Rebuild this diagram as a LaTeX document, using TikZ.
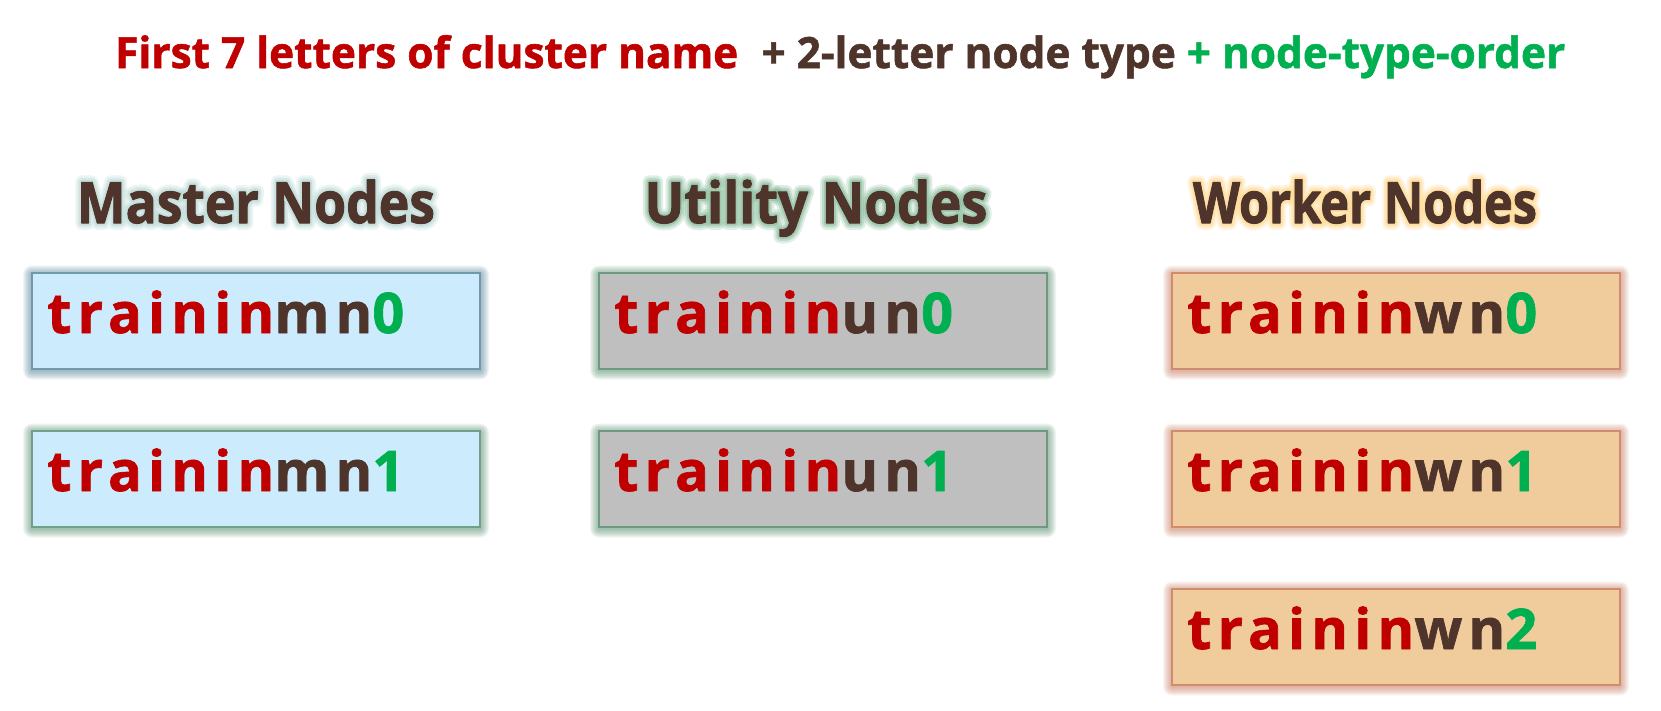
\documentclass[tikz,border=0pt]{standalone}
\usepackage{fontspec}
\usepackage{graphicx}
\usetikzlibrary{calc}
\setmainfont{Open Sans}
\newfontfamily\boxfont[LetterSpace=11,FakeBold=1.2]{Open Sans}
\newfontfamily\hdfont[FakeBold=1.8]{Open Sans}
\newfontfamily\titlefont[FakeBold=1.3]{Open Sans}
\newfontfamily\glowA[FakeBold=24]{Open Sans}
\newfontfamily\glowB[FakeBold=16]{Open Sans}
\newfontfamily\glowC[FakeBold=9]{Open Sans}
\definecolor{cred}{HTML}{C00000}
\definecolor{cbrown}{HTML}{4E342A}
\definecolor{cgreen}{HTML}{00B050}
\definecolor{mfill}{HTML}{CCEBFC}
\definecolor{ufill}{HTML}{BFBFBF}
\definecolor{wfill}{HTML}{F0CC9C}
\definecolor{mglow}{HTML}{5F8A9E}
\definecolor{gglow}{HTML}{5E9474}
\definecolor{wglow}{HTML}{CC8066}
\definecolor{mhglow}{HTML}{B7D8D4}
\definecolor{uhglow}{HTML}{86BB98}
\definecolor{whglow}{HTML}{FFD688}
\tikzset{
  hdtext/.style={inner sep=0pt, anchor=base, text=cbrown, font=\hdfont\bfseries\fontsize{57}{60}\selectfont},
  titletext/.style={inner sep=0pt, anchor=base west, font=\titlefont\bfseries\fontsize{43}{46}\selectfont},
  nbox/.style={inner sep=0pt, minimum width=448pt, minimum height=96pt, draw=#1, line width=1.2pt},
  ntext/.style={inner sep=0pt, anchor=base west, font=\boxfont\bfseries\fontsize{56}{60}\selectfont}
}
% header with glow: name, x, y, glow colour, width, text
\newcommand\glowhead[6]{%
  \begin{scope}[line join=round, miter limit=1]
  \node[hdtext, text=#4, opacity=0.25, font=\glowA\bfseries\fontsize{57}{60}\selectfont] at (#2,#3) {\resizebox{#5pt}{\height}{#6}};
  \node[hdtext, text=#4, opacity=0.35, font=\glowB\bfseries\fontsize{57}{60}\selectfont] at (#2,#3) {\resizebox{#5pt}{\height}{#6}};
  \node[hdtext, text=#4, opacity=0.5, font=\glowC\bfseries\fontsize{57}{60}\selectfont] at (#2,#3) {\resizebox{#5pt}{\height}{#6}};
  \node[hdtext] (#1) at (#2,#3) {\resizebox{#5pt}{\height}{#6}};
  \end{scope}
}
% box: name, left x, top y, fill, glow, coloured text
\newcommand\namebox[6]{%
  \foreach \i in {1,...,9}{%
    \fill[#5, opacity=0.085, rounded corners=\i pt] (#2-\i, #3-\i+1.5) rectangle (#2+448+\i, #3+96+\i+1.5);
  }
  \node[nbox=#5!85!#4, fill=#4] (#1) at (#2+224, #3+48) {};
  \node[ntext] (#1t) at (#2+15, #3+60) {#6};
}
\begin{document}
\begin{tikzpicture}[x=1pt, y=-1pt]
\useasboundingbox (0,0) rectangle (1661,710);
\fill[white] (0,0) rectangle (1661,710);

\node[titletext] (title) at (115,68) {\resizebox{1450pt}{\height}{\textcolor{cred}{First 7 letters of cluster name}\hspace{0.55em}\textcolor{cbrown}{+ 2-letter node type} \textcolor{cgreen}{+ node-type-order}}};

\glowhead{hm}{256}{223}{mhglow}{358}{Master Nodes}
\glowhead{hu}{816}{223}{uhglow}{343}{Utility Nodes}
\glowhead{hw}{1365}{223}{whglow}{344}{Worker Nodes}

\namebox{m0}{32}{273}{mfill}{mglow}{\textcolor{cred}{trainin}\textcolor{cbrown}{mn}\textcolor{cgreen}{0}}
\namebox{m1}{32}{431}{mfill}{gglow}{\textcolor{cred}{trainin}\textcolor{cbrown}{mn}\textcolor{cgreen}{1}}
\namebox{u0}{599}{273}{ufill}{gglow}{\textcolor{cred}{trainin}\textcolor{cbrown}{un}\textcolor{cgreen}{0}}
\namebox{u1}{599}{431}{ufill}{gglow}{\textcolor{cred}{trainin}\textcolor{cbrown}{un}\textcolor{cgreen}{1}}
\namebox{w0}{1172}{273}{wfill}{wglow}{\textcolor{cred}{trainin}\textcolor{cbrown}{wn}\textcolor{cgreen}{0}}
\namebox{w1}{1172}{431}{wfill}{wglow}{\textcolor{cred}{trainin}\textcolor{cbrown}{wn}\textcolor{cgreen}{1}}
\namebox{w2}{1172}{589}{wfill}{wglow}{\textcolor{cred}{trainin}\textcolor{cbrown}{wn}\textcolor{cgreen}{2}}
\end{tikzpicture}
\end{document}
